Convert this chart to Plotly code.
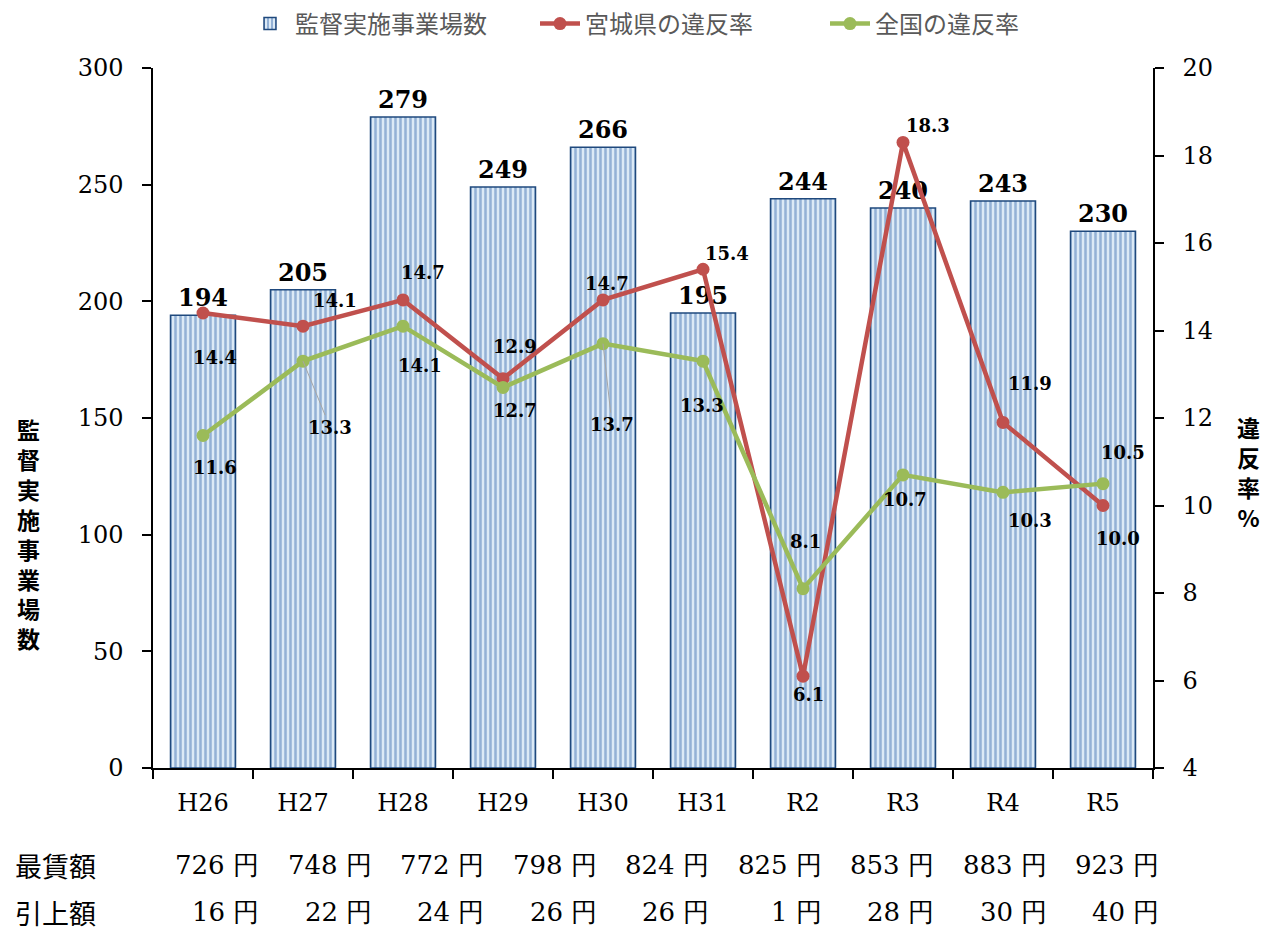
import plotly.graph_objects as go

# 年度
nendo = ['H26', 'H27', 'H28', 'H29', 'H30', 'H31', 'R2', 'R3', 'R4', 'R5']

# 監督実施事業場数
jigyojo = [194, 205, 279, 249, 266, 195, 244, 240, 243, 230]

# 違反率 (%)
ihan_miyagi = [14.4, 14.1, 14.7, 12.9, 14.7, 15.4, 6.1, 18.3, 11.9, 10.0]
ihan_zenkoku = [11.6, 13.3, 14.1, 12.7, 13.7, 13.3, 8.1, 10.7, 10.3, 10.5]

# 表の行（最賃額・引上額）
saichin = ['726 円', '748 円', '772 円', '798 円', '824 円', '825 円', '853 円', '883 円', '923 円']
hikiage = ['16 円', '22 円', '24 円', '26 円', '26 円', '1 円', '28 円', '30 円', '40 円']

# ラベル位置のずれ (px)
miyagi_off = [(12, -44), (32, 26), (20, 27), (12, 32), (4, 16), (24, 16), (5, -18), (25, 17), (27, 39), (15, -33)]
zenkoku_off = [(12, -32), (27, -66), (17, -39), (12, -23), (9, -81), (-1, -44), (2, 47), (2, -25), (27, -28), (20, 31)]

SERIF = 'DejaVu Serif, Liberation Serif, serif'
SANS = 'Noto Sans CJK JP, Noto Sans, sans-serif'
RED = '#C0504D'
GREEN = '#9BBB59'

# ページ余白 (body margin) の分だけずらす
OFF = 8
W, H = 1279, 930
L, R, T, B = 153 - OFF, 1153 - OFF, 68 - OFF, 768 - OFF


def px(x):
    return (x - OFF - L) / (R - L)


def py(y):
    return (B - (y - OFF)) / (B - T)


fig = go.Figure()

fig.add_trace(go.Bar(
    x=nendo, y=jigyojo, name='監督実施事業場数',
    marker=dict(
        color='#DCEAF6',
        line=dict(color='#1F497D', width=1.5),
        pattern=dict(shape='|', fgcolor='#4A78B5', bgcolor='#DCEAF6', size=5, solidity=0.5),
    ),
    text=jigyojo, textposition='outside', cliponaxis=False,
    textfont=dict(family=SERIF, size=24, color='black', weight='bold'),
))

fig.add_trace(go.Scatter(
    x=nendo, y=ihan_miyagi, name='宮城県の違反率', yaxis='y2',
    mode='lines+markers', line=dict(color=RED, width=4.5),
    marker=dict(color=RED, size=13),
))

fig.add_trace(go.Scatter(
    x=nendo, y=ihan_zenkoku, name='全国の違反率', yaxis='y2',
    mode='lines+markers', line=dict(color=GREEN, width=4.5),
    marker=dict(color=GREEN, size=13),
))

annotations = []
lbl_font = dict(family=SERIF, size=18, color='black', weight='bold')
for i, (cat, v) in enumerate(zip(nendo, ihan_miyagi)):
    dx, dy = miyagi_off[i]
    annotations.append(dict(x=cat, y=v, xref='x', yref='y2', text=f'{v:.1f}', showarrow=False,
                            xshift=dx, yshift=dy, font=lbl_font))
for i, (cat, v) in enumerate(zip(nendo, ihan_zenkoku)):
    dx, dy = zenkoku_off[i]
    if i in (1, 4):
        # 引き出し線つき
        annotations.append(dict(x=cat, y=v, xref='x', yref='y2', text=f'{v:.1f}', showarrow=True,
                                arrowhead=0, arrowwidth=1, arrowcolor='#A6A6A6', standoff=0,
                                ax=dx, ay=-dy, font=lbl_font))
    else:
        annotations.append(dict(x=cat, y=v, xref='x', yref='y2', text=f'{v:.1f}', showarrow=False,
                                xshift=dx, yshift=dy, font=lbl_font))

# 軸タイトル（縦書き）
title_font = dict(family=SANS, size=23, color='black', weight='bold')
annotations.append(dict(x=px(28), y=py(533), xref='paper', yref='paper',
                        xanchor='center', yanchor='middle', text='<br>'.join('監督実施事業場数'),
                        showarrow=False, font=title_font))
annotations.append(dict(x=px(1248), y=py(472), xref='paper', yref='paper',
                        xanchor='center', yanchor='middle', text='<br>'.join('違反率%'),
                        showarrow=False, font=title_font))

# 表
tbl_font = dict(family=SERIF, size=26, color='black')
for k, (s, h) in enumerate(zip(saichin, hikiage)):
    xr = px(261 + 112.5 * k)
    annotations.append(dict(x=xr, y=py(865), xref='paper', yref='paper', xanchor='right',
                            yanchor='middle', text=s, showarrow=False, font=tbl_font))
    annotations.append(dict(x=xr, y=py(912), xref='paper', yref='paper', xanchor='right',
                            yanchor='middle', text=h, showarrow=False, font=tbl_font))
row_font = dict(family=SANS, size=27, color='black')
annotations.append(dict(x=px(13), y=py(865), xref='paper', yref='paper',
                        xanchor='left', yanchor='middle', text='最賃額', showarrow=False, font=row_font))
annotations.append(dict(x=px(13), y=py(912), xref='paper', yref='paper',
                        xanchor='left', yanchor='middle', text='引上額', showarrow=False, font=row_font))

axis_common = dict(showline=True, linecolor='black', linewidth=1.5, ticks='outside', ticklen=9,
                   tickcolor='black', tickwidth=1.5, showgrid=False, zeroline=False,
                   tickfont=dict(family=SERIF, size=24, color='black'))

fig.update_layout(
    width=W, height=H,
    margin=dict(l=L, r=W - R, t=T, b=H - B, autoexpand=False),
    plot_bgcolor='white', paper_bgcolor='white',
    bargap=0.35,
    showlegend=True,
    legend=dict(orientation='h', x=(680 - OFF) / W, xanchor='center', y=1 - (24 - OFF) / H,
                yanchor='middle', xref='container', yref='container',
                font=dict(family=SANS, size=24, color='#595959'),
                traceorder='normal', itemwidth=40, tracegroupgap=0,
                entrywidth=235, entrywidthmode='pixels'),
    xaxis=dict(range=[-0.5, 9.5], tickson='boundaries', ticklabelstandoff=12, **axis_common),
    yaxis=dict(range=[0, 300], dtick=50, ticklabelstandoff=14, **axis_common),
    yaxis2=dict(range=[4, 20], dtick=2, overlaying='y', side='right', ticklabelstandoff=14,
                **axis_common),
    annotations=annotations,
)

fig.write_html('out.html')
